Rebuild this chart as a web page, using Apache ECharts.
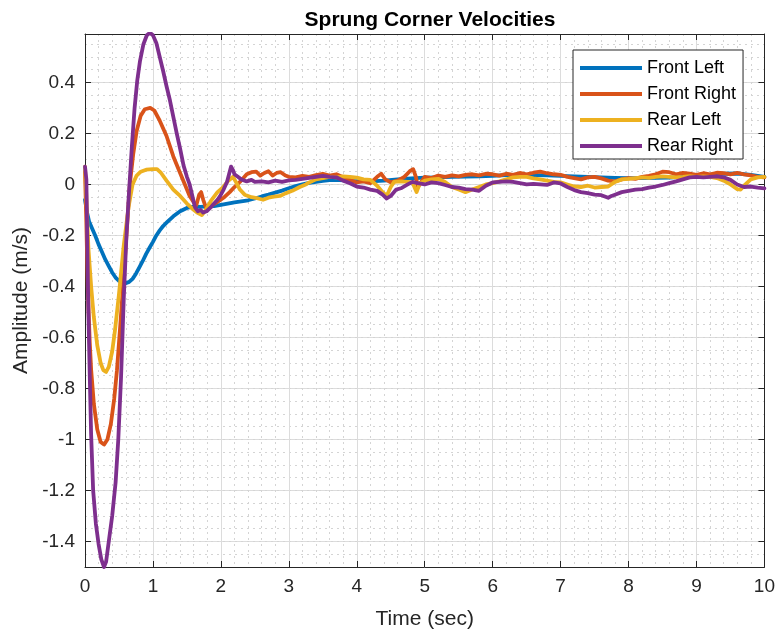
<!DOCTYPE html>
<html>
<head>
<meta charset="utf-8">
<script src="https://cdn.jsdelivr.net/npm/echarts@6/dist/echarts.min.js"></script>
<style>
html,body{margin:0;padding:0;background:#fff;}
#chart{width:778px;height:639px;}
</style>
</head>
<body>
<div id="chart"></div>
<script>
// ---- Data (time in s, amplitude in m/s) ----
var seriesNames = ['Front Left', 'Front Right', 'Rear Left', 'Rear Right'];
var seriesColors = ['#0072BD', '#D95319', '#EDB120', '#7E2F8E'];
var xTicks = [0,1,2,3,4,5,6,7,8,9,10];
var yTicks = [-1.4,-1.2,-1,-0.8,-0.6,-0.4,-0.2,0,0.2,0.4];

var frontLeft = [[0,-0.06],[0.03,-0.11],[0.06,-0.145],[0.1,-0.17],[0.15,-0.2],[0.2,-0.235],[0.25,-0.265],[0.3,-0.295],[0.35,-0.32],[0.4,-0.345],[0.45,-0.365],[0.5,-0.378],[0.55,-0.385],[0.6,-0.387],[0.65,-0.382],[0.7,-0.37],[0.75,-0.35],[0.8,-0.325],[0.85,-0.3],[0.9,-0.272],[0.95,-0.248],[1.0,-0.225],[1.05,-0.2],[1.1,-0.18],[1.15,-0.163],[1.2,-0.15],[1.3,-0.125],[1.4,-0.105],[1.5,-0.092],[1.6,-0.087],[1.7,-0.088],[1.8,-0.086],[1.9,-0.085],[2.0,-0.08],[2.1,-0.075],[2.2,-0.07],[2.3,-0.066],[2.4,-0.062],[2.5,-0.055],[2.6,-0.047],[2.7,-0.04],[2.8,-0.032],[2.9,-0.024],[3.0,-0.015],[3.1,-0.006],[3.2,0.0],[3.3,0.006],[3.4,0.01],[3.5,0.014],[3.6,0.017],[3.7,0.018],[3.8,0.016],[3.9,0.014],[4.0,0.013],[4.2,0.012],[4.4,0.015],[4.6,0.02],[4.8,0.024],[5.0,0.027],[5.2,0.028],[5.4,0.03],[5.6,0.031],[5.8,0.032],[6.0,0.034],[6.2,0.037],[6.4,0.038],[6.6,0.037],[6.8,0.036],[7.0,0.034],[7.2,0.032],[7.4,0.03],[7.6,0.028],[7.8,0.026],[8.0,0.025],[8.2,0.025],[8.4,0.026],[8.6,0.027],[8.8,0.03],[9.0,0.034],[9.2,0.038],[9.4,0.042],[9.6,0.043],[9.8,0.038],[10,0.03]];

var frontRight = [[0,0.05],[0.02,-0.15],[0.04,-0.4],[0.07,-0.62],[0.09,-0.725],[0.13,-0.86],[0.18,-0.96],[0.23,-1.01],[0.28,-1.02],[0.33,-1.0],[0.38,-0.94],[0.43,-0.84],[0.47,-0.73],[0.52,-0.55],[0.57,-0.36],[0.62,-0.16],[0.66,0.0],[0.71,0.12],[0.76,0.21],[0.82,0.27],[0.88,0.295],[0.96,0.3],[1.02,0.29],[1.1,0.25],[1.2,0.19],[1.3,0.11],[1.4,0.045],[1.47,0.0],[1.54,-0.045],[1.6,-0.07],[1.64,-0.08],[1.68,-0.04],[1.71,-0.03],[1.74,-0.06],[1.78,-0.09],[1.85,-0.085],[1.94,-0.07],[2.05,-0.05],[2.13,-0.03],[2.2,-0.01],[2.28,0.01],[2.38,0.04],[2.45,0.048],[2.52,0.05],[2.58,0.035],[2.64,0.045],[2.7,0.052],[2.76,0.035],[2.82,0.045],[2.88,0.048],[2.95,0.035],[3.0,0.03],[3.1,0.028],[3.2,0.034],[3.3,0.03],[3.4,0.037],[3.5,0.042],[3.6,0.035],[3.7,0.04],[3.8,0.028],[3.9,0.018],[4.0,0.008],[4.1,0.012],[4.2,0.005],[4.3,0.03],[4.36,0.042],[4.42,0.02],[4.5,0.008],[4.6,0.015],[4.7,0.03],[4.78,0.052],[4.83,0.06],[4.87,0.03],[4.9,-0.01],[4.95,0.01],[5.0,0.03],[5.1,0.025],[5.2,0.035],[5.3,0.03],[5.4,0.036],[5.5,0.032],[5.6,0.038],[5.7,0.04],[5.8,0.036],[5.9,0.042],[6.0,0.04],[6.1,0.035],[6.2,0.042],[6.3,0.038],[6.4,0.045],[6.5,0.04],[6.6,0.046],[6.7,0.05],[6.8,0.044],[6.9,0.04],[7.0,0.038],[7.1,0.03],[7.2,0.025],[7.3,0.02],[7.4,0.028],[7.5,0.03],[7.6,0.024],[7.7,0.015],[7.8,0.012],[7.9,0.02],[8.0,0.025],[8.1,0.022],[8.2,0.03],[8.3,0.034],[8.4,0.04],[8.5,0.05],[8.6,0.048],[8.7,0.04],[8.8,0.045],[8.9,0.042],[9.0,0.038],[9.1,0.044],[9.2,0.04],[9.3,0.046],[9.4,0.044],[9.5,0.04],[9.6,0.045],[9.7,0.04],[9.8,0.036],[9.9,0.03],[10,0.028]];

var rearLeft = [[0,0.07],[0.02,-0.05],[0.05,-0.25],[0.09,-0.4],[0.13,-0.52],[0.18,-0.63],[0.23,-0.7],[0.27,-0.728],[0.31,-0.735],[0.35,-0.715],[0.4,-0.655],[0.44,-0.575],[0.5,-0.43],[0.57,-0.24],[0.64,-0.09],[0.7,0.0],[0.76,0.035],[0.82,0.05],[0.9,0.058],[1.0,0.06],[1.06,0.06],[1.12,0.045],[1.2,0.015],[1.3,-0.02],[1.4,-0.045],[1.5,-0.075],[1.58,-0.095],[1.65,-0.11],[1.72,-0.12],[1.78,-0.1],[1.85,-0.065],[1.95,-0.03],[2.03,-0.012],[2.1,0.012],[2.18,0.03],[2.22,0.01],[2.28,-0.02],[2.35,-0.04],[2.45,-0.05],[2.55,-0.055],[2.62,-0.06],[2.7,-0.052],[2.78,-0.048],[2.87,-0.045],[2.95,-0.035],[3.05,-0.025],[3.16,-0.01],[3.25,0.0],[3.3,0.008],[3.4,0.02],[3.5,0.025],[3.6,0.03],[3.7,0.028],[3.8,0.032],[3.9,0.03],[4.0,0.027],[4.1,0.02],[4.2,0.018],[4.3,-0.005],[4.38,-0.03],[4.44,-0.045],[4.5,-0.01],[4.55,0.01],[4.65,0.012],[4.75,0.01],[4.82,0.008],[4.88,-0.03],[4.93,0.005],[5.0,0.015],[5.1,0.02],[5.2,0.022],[5.3,0.01],[5.4,-0.01],[5.5,-0.02],[5.6,-0.03],[5.7,-0.02],[5.8,-0.01],[5.9,0.0],[6.0,0.005],[6.1,0.012],[6.2,0.02],[6.3,0.028],[6.4,0.03],[6.5,0.03],[6.6,0.024],[6.7,0.02],[6.8,0.015],[6.9,0.01],[7.0,0.008],[7.1,0.0],[7.2,-0.008],[7.3,-0.01],[7.4,-0.005],[7.5,-0.012],[7.6,-0.01],[7.7,-0.008],[7.8,0.01],[7.9,0.02],[8.0,0.022],[8.1,0.025],[8.2,0.028],[8.3,0.026],[8.4,0.03],[8.5,0.032],[8.6,0.03],[8.7,0.028],[8.8,0.03],[8.9,0.033],[9.0,0.03],[9.1,0.032],[9.2,0.03],[9.3,0.025],[9.4,0.015],[9.5,0.0],[9.6,-0.018],[9.65,-0.02],[9.7,-0.005],[9.8,0.02],[9.9,0.028],[10,0.03]];

var rearRight = [[0,0.07],[0.02,0.02],[0.035,-0.25],[0.05,-0.5],[0.07,-0.75],[0.09,-0.98],[0.12,-1.2],[0.16,-1.33],[0.2,-1.41],[0.24,-1.47],[0.28,-1.5],[0.31,-1.48],[0.35,-1.4],[0.4,-1.3],[0.45,-1.17],[0.49,-1.0],[0.53,-0.76],[0.57,-0.45],[0.61,-0.2],[0.65,-0.02],[0.69,0.15],[0.73,0.3],[0.77,0.41],[0.81,0.485],[0.86,0.55],[0.91,0.585],[0.956,0.595],[1.0,0.585],[1.05,0.555],[1.1,0.5],[1.15,0.445],[1.2,0.385],[1.25,0.33],[1.3,0.265],[1.35,0.2],[1.4,0.14],[1.45,0.075],[1.5,0.03],[1.54,0.0],[1.58,-0.045],[1.62,-0.09],[1.66,-0.105],[1.7,-0.1],[1.74,-0.11],[1.79,-0.105],[1.85,-0.09],[1.9,-0.075],[1.95,-0.06],[1.99,-0.045],[2.04,-0.02],[2.09,0.01],[2.12,0.04],[2.15,0.07],[2.18,0.055],[2.2,0.04],[2.25,0.03],[2.3,0.02],[2.38,0.012],[2.45,0.018],[2.5,0.01],[2.6,0.012],[2.7,0.008],[2.8,0.015],[2.9,0.01],[3.0,0.016],[3.1,0.018],[3.2,0.022],[3.3,0.026],[3.4,0.03],[3.5,0.034],[3.6,0.03],[3.7,0.028],[3.8,0.015],[3.9,0.005],[4.0,-0.008],[4.1,-0.012],[4.2,-0.02],[4.3,-0.025],[4.38,-0.04],[4.44,-0.055],[4.5,-0.045],[4.58,-0.02],[4.65,-0.015],[4.75,0.0],[4.82,0.01],[4.9,0.005],[5.0,0.0],[5.1,0.008],[5.2,0.005],[5.3,-0.002],[5.4,-0.01],[5.5,-0.012],[5.6,-0.018],[5.7,-0.02],[5.8,-0.025],[5.9,-0.005],[6.0,0.008],[6.1,0.01],[6.2,0.012],[6.3,0.01],[6.4,0.005],[6.5,0.0],[6.6,0.002],[6.7,0.0],[6.8,-0.002],[6.9,0.008],[7.0,0.004],[7.1,-0.01],[7.2,-0.022],[7.3,-0.03],[7.4,-0.034],[7.5,-0.04],[7.6,-0.042],[7.7,-0.052],[7.75,-0.045],[7.8,-0.04],[7.9,-0.03],[8.0,-0.025],[8.1,-0.02],[8.2,-0.018],[8.3,-0.012],[8.4,-0.008],[8.5,-0.002],[8.6,0.005],[8.7,0.012],[8.8,0.02],[8.9,0.028],[9.0,0.03],[9.1,0.028],[9.2,0.03],[9.3,0.032],[9.4,0.028],[9.5,0.018],[9.6,0.0],[9.7,-0.01],[9.8,-0.008],[9.9,-0.012],[10,-0.015]];

var seriesData = [frontLeft, frontRight, rearLeft, rearRight];

// ---- Chart ----
var FONT = '"Liberation Sans", Arial, Helvetica, sans-serif';
var AX = '#262626';
var Y_MIN = -1.5, Y_MAX = 0.59;
var chart = echarts.init(document.getElementById('chart'), null, {renderer: 'canvas'});

var series = seriesNames.map(function (n, i) {
  return {
    name: n, type: 'line', xAxisIndex: 0, yAxisIndex: 0,
    data: seriesData[i], showSymbol: false, symbol: 'none',
    lineStyle: {width: 3.8, color: seriesColors[i], join: 'round', cap: 'round'},
    itemStyle: {color: seriesColors[i]},
    animation: false, z: 3
  };
});

chart.setOption({
  animation: false,
  backgroundColor: '#ffffff',
  title: {
    text: 'Sprung Corner Velocities', left: 425, top: 5, textAlign: 'center',
    textStyle: {fontFamily: FONT, fontSize: 21, fontWeight: 'bold', color: '#000'}
  },
  legend: {
    orient: 'vertical', left: 573, top: 50,
    data: seriesNames, icon: 'rect', itemWidth: 62, itemHeight: 4, itemGap: 8,
    padding: [9, 7, 4, 7],
    backgroundColor: '#fff', borderColor: AX, borderWidth: 1,
    textStyle: {fontFamily: FONT, fontSize: 18, color: '#000', lineHeight: 18},
    selectedMode: false
  },
  grid: {left: 85, right: 13, top: 34, bottom: 72, containLabel: false},
  xAxis: [{
    type: 'value', min: 0, max: 10, interval: 1, position: 'bottom',
    name: 'Time (sec)', nameLocation: 'middle', nameGap: 42,
    nameTextStyle: {fontFamily: FONT, fontSize: 21, color: AX},
    axisLine: {show: true, onZero: false, lineStyle: {color: AX, width: 1}},
    axisTick: {show: true, inside: true, length: 6, lineStyle: {color: AX}},
    axisLabel: {fontFamily: FONT, fontSize: 19, color: AX, margin: 10,
      formatter: function (v) { return xTicks.indexOf(v) >= 0 ? String(v) : ''; }},
    splitLine: {show: true, lineStyle: {color: '#dcdcdc', width: 1}},
    minorTick: {show: false, splitNumber: 5},
    minorSplitLine: {show: true, lineStyle: {color: '#d4d4d4', width: 1, type: [2, 4]}}
  }, {
    type: 'value', min: 0, max: 10, interval: 1, position: 'top',
    axisLine: {show: true, onZero: false, lineStyle: {color: AX, width: 1}},
    axisTick: {show: true, inside: true, length: 6, lineStyle: {color: AX}},
    axisLabel: {show: false}, splitLine: {show: false}
  }],
  yAxis: [{
    type: 'value', min: Y_MIN, max: Y_MAX, position: 'left',
    name: 'Amplitude (m/s)', nameLocation: 'middle', nameGap: 52,
    nameTextStyle: {fontFamily: FONT, fontSize: 21, color: AX},
    axisLine: {show: true, onZero: false, lineStyle: {color: AX, width: 1}},
    axisTick: {show: true, inside: true, length: 6, lineStyle: {color: AX}, customValues: yTicks},
    axisLabel: {fontFamily: FONT, fontSize: 19, color: AX, margin: 10, customValues: yTicks,
      formatter: function (v) { return String(Math.round(v * 10) / 10); }},
    splitLine: {show: true, customValues: yTicks, lineStyle: {color: '#dcdcdc', width: 1}}
  }, {
    type: 'value', min: Y_MIN, max: Y_MAX, interval: 0.05, position: 'left',
    axisLine: {show: false}, axisTick: {show: false}, axisLabel: {show: false},
    splitLine: {show: true, lineStyle: {color: '#d4d4d4', width: 1, type: [2, 4]}}
  }, {
    type: 'value', min: Y_MIN, max: Y_MAX, position: 'right',
    axisLine: {show: true, onZero: false, lineStyle: {color: AX, width: 1}},
    axisTick: {show: true, inside: true, length: 6, lineStyle: {color: AX}, customValues: yTicks},
    axisLabel: {show: false}, splitLine: {show: false}
  }],
  series: series
});
</script>
</body>
</html>
